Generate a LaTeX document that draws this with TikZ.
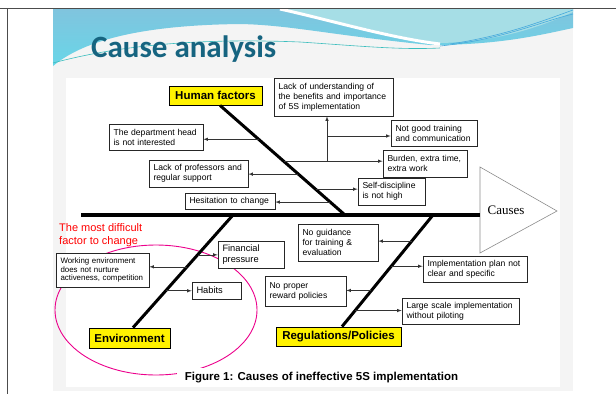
\documentclass[tikz,border=0pt]{standalone}
\usepackage{fontspec}
\setmainfont{Liberation Sans}
\newfontfamily\titlefont{Carlito}
\newfontfamily\causefont{Liberation Serif}
\usetikzlibrary{calc}
\definecolor{slidegray}{RGB}{244,244,244}
\definecolor{wavetop}{RGB}{128,196,222}
\definecolor{wavebottom}{RGB}{104,214,232}
\definecolor{wavelight}{RGB}{166,222,230}
\definecolor{waveline}{RGB}{60,190,190}
\definecolor{wavedark}{RGB}{70,170,220}
\definecolor{titleteal}{RGB}{22,100,128}
\tikzset{
	cause/.style={draw=black!85, line width=0.7pt, fill=white, align=left, inner xsep=4.5pt, inner ysep=0pt, font=\fontsize{8.6}{10}\selectfont},
	factor/.style={draw=black, line width=0.8pt, fill=yellow, inner sep=0pt, font=\fontsize{11.5}{13}\selectfont\bfseries},
	bone/.style={line width=3pt},
	twig/.style={-latex, line width=0.6pt, draw=black!80},
}

\begin{document}
\begin{tikzpicture}[x=1pt, y=-1pt]
			\useasboundingbox (0,0) rectangle (616,394);
			\fill[slidegray] (53,9) rectangle (573,391);
			\fill[white] (66,78) rectangle (560,387);
			\shade[top color=wavetop, bottom color=wavebottom] (53,9) -- (573,9) -- (573,28) .. controls (540,35) and (500,45) .. (430,45) .. controls (330,35) and (290,25) .. (240,24) .. controls (160,25) and (90,35) .. (53,66) -- cycle;
			\fill[wavelight] (285,9) .. controls (335,20) and (390,36) .. (440,43) .. controls (500,42) and (545,25) .. (573,12) -- (573,9) -- cycle;
			\draw[white, line width=3pt] (280,9) .. controls (330,20) and (390,38) .. (440,44);
			\draw[waveline, line width=0.6pt] (53,63) .. controls (120,45) and (200,38) .. (300,42) .. controls (360,46) and (400,50) .. (440,48);
			\draw[wavedark, line width=0.6pt] (440,46) .. controls (500,40) and (540,22) .. (573,14);
			\draw[wavedark, line width=0.6pt] (450,44) .. controls (505,36) and (545,20) .. (573,10);
			\draw[gray!60!black, line width=1pt] (0,8) -- (616,8);
			\draw[gray!60!black, line width=1pt] (7,8) -- (7,394);
			\node[font=\titlefont\bfseries\fontsize{31}{36}\selectfont, text=titleteal, anchor=base west, inner sep=0pt](N21) at (91,57){Cause analysis};
			\draw[magenta, line width=0.9pt] (156,310) ellipse [x radius=101pt, y radius=65pt];
			\node[fill=white, inner xsep=8pt, inner ysep=4pt, anchor=base, font=\fontsize{11.5}{13}\selectfont\bfseries](N20) at (321.5,380){Figure 1: Causes of ineffective 5S implementation};
			\node[text=red, align=left, anchor=west, inner sep=0pt, font=\fontsize{11}{13.5}\selectfont](N19) at (59,235){The most difficult\\factor to change};
			\node[factor, minimum width=93pt, minimum height=19pt](N1) at (215.5,95.5){Human factors};
			\node[factor, minimum width=81pt, minimum height=20pt](N2) at (129.5,338){Environment};
			\node[factor, minimum width=125pt, minimum height=19pt](N3) at (338.5,336.5){Regulations/Policies};
			\coordinate (T1) at (480,167);
			\coordinate (T2) at (557,211);
			\coordinate (T3) at (480,253);
			\draw[black!45, line width=0.6pt] (T1) -- (T2) -- (T3) -- cycle;
			\node[anchor=base, inner sep=0pt, font=\causefont\fontsize{13}{15}\selectfont](N18) at (506,214){Causes};
			\coordinate (S1) at (81,215);
			\coordinate (S2) at (T1 |- S1);
			\draw[line width=3.5pt] (S1) -- (S2);
			\coordinate (H1) at ([xshift=4.5pt]N1.south);
			\coordinate (H2) at (345,215);
			\coordinate (E1) at ([xshift=3.5pt]N2.north);
			\coordinate (E2) at (233,215);
			\coordinate (R1) at ([xshift=3.5pt]N3.north);
			\coordinate (R2) at (433,215);
			\draw[bone] (H1) -- (H2);
			\draw[bone] (E1) -- (E2);
			\draw[bone] (R1) -- (R2);
			\node[cause, text width=110pt, minimum height=38pt](N4) at (333.5,97){Lack of understanding of\\the benefits and importance\\of 5S implementation};
			\node[cause, text width=77pt, minimum height=26pt](N5) at (434,133){Not good training\\and communication};
			\node[cause, text width=75pt, minimum height=27pt](N6) at (425,163.5){Burden, extra time,\\extra work};
			\node[cause, text width=58pt, minimum height=27pt](N7) at (391.5,191.5){Self-discipline\\is not high};
			\node[cause, text width=85pt, minimum height=26pt](N8) at (156,137){The department head\\is not interested};
			\node[cause, text width=90pt, minimum height=27pt](N9) at (198.5,173.5){Lack of professors and\\regular support};
			\node[cause, text width=81pt, minimum height=16pt](N10) at (230,201){Hesitation to change};
			\node[cause, text width=57pt, minimum height=27pt, font=\fontsize{9.3}{11.5}\selectfont](N11) at (251,254.5){Financial\\pressure};
			\node[cause, text width=84pt, minimum height=34pt, font=\fontsize{7.9}{8.9}\selectfont](N12) at (102.5,270){Working environment\\does not nurture\\activeness, competition};
			\node[cause, text width=40pt, minimum height=17pt, font=\fontsize{9.3}{11.5}\selectfont](N13) at (216.5,290.5){Habits};
			\node[cause, text width=71pt, minimum height=37pt](N14) at (338,242.5){No guidance\\for training \&\\evaluation};
			\node[cause, text width=95pt, minimum height=26pt](N15) at (475,269){Implementation plan not\\clear and specific};
			\node[cause, text width=72pt, minimum height=30pt](N16) at (305.5,291){No proper\\reward policies};
			\node[cause, text width=108pt, minimum height=26pt](N17) at (460.5,311){Large scale implementation\\without piloting};
			\coordinate (B1) at ($(H1)!0.309!(H2)$);
			\coordinate (B2) at ($(H1)!0.509!(H2)$);
			\coordinate (B3) at ($(H1)!0.627!(H2)$);
			\coordinate (B4) at ($(H1)!0.764!(H2)$);
			\coordinate (B5) at ($(H1)!0.882!(H2)$);
			\coordinate (J1) at (327,161);
			\coordinate (J2) at (327,136);
			\draw[twig] (B1) -- (B1 -| N8.east);
			\draw[twig] (B2) -- (B2 -| N6.west);
			\draw[twig] (B3) -- (B3 -| N9.east);
			\draw[twig] (B4) -- (B4 -| N7.west);
			\draw[twig] (B5) -- (B5 -| N10.east);
			\draw[twig] (J1) -- (J1 |- N4.south);
			\draw[twig] (J2) -- (J2 -| N5.west);
			\coordinate (C1) at ($(E2)!0.354!(E1)$);
			\coordinate (C2) at ($(E2)!0.460!(E1)$);
			\coordinate (C3) at ($(E2)!0.673!(E1)$);
			\draw[twig] (C1) -- (C1 -| N11.west);
			\draw[twig] (C2) -- (C2 -| N12.east);
			\draw[twig] (C3) -- (C3 -| N13.west);
			\coordinate (D1) at ($(R2)!0.234!(R1)$);
			\coordinate (D2) at ($(R2)!0.459!(R1)$);
			\coordinate (D3) at ($(R2)!0.676!(R1)$);
			\coordinate (D4) at ($(R2)!0.856!(R1)$);
			\draw[twig] (D1) -- (D1 -| N14.east);
			\draw[twig] (D2) -- (D2 -| N15.west);
			\draw[twig] (D3) -- (D3 -| N16.east);
			\draw[twig] (D4) -- (D4 -| N17.west);
		\end{tikzpicture}
\end{document}
